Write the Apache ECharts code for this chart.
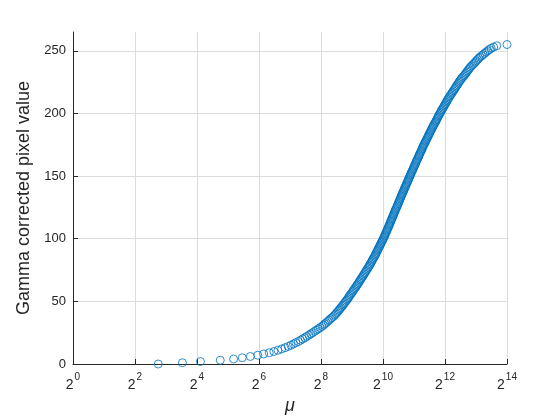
<!DOCTYPE html>
<html>
<head>
<meta charset="utf-8">
<script src="https://cdn.jsdelivr.net/npm/echarts@6/dist/echarts.min.js"></script>
<style>
html,body{margin:0;padding:0;background:#fff;}
#chart{width:560px;height:420px;}
</style>
</head>
<body>
<div id="chart"></div>
<script>
// log2(mu) for each gamma corrected pixel value
const log2Mu = [
 2.75,3.53,4.11,4.75,5.18,5.46,5.72,5.96,6.15,6.33,
 6.48,6.61,6.73,6.84,6.94,7.03,7.11,7.19,7.27,7.34,
 7.41,7.48,7.54,7.61,7.67,7.73,7.79,7.85,7.91,7.97,
 8.03,8.08,8.12,8.17,8.22,8.26,8.31,8.35,8.40,8.44,
 8.48,8.51,8.55,8.58,8.61,8.64,8.68,8.71,8.74,8.77,
 8.80,8.83,8.86,8.89,8.91,8.94,8.97,9.00,9.03,9.05,
 9.08,9.11,9.14,9.16,9.19,9.22,9.24,9.27,9.29,9.32,
 9.35,9.37,9.40,9.42,9.45,9.47,9.50,9.52,9.55,9.57,
 9.59,9.62,9.64,9.66,9.68,9.71,9.73,9.75,9.77,9.79,
 9.81,9.83,9.85,9.87,9.89,9.91,9.93,9.95,9.97,9.99,
 10.01,10.03,10.05,10.06,10.08,10.10,10.12,10.13,10.15,10.17,
 10.19,10.20,10.22,10.24,10.25,10.27,10.29,10.30,10.32,10.34,
 10.35,10.37,10.39,10.40,10.42,10.44,10.46,10.47,10.49,10.51,
 10.52,10.54,10.56,10.57,10.59,10.61,10.62,10.64,10.66,10.68,
 10.69,10.71,10.73,10.75,10.76,10.78,10.80,10.82,10.83,10.85,
 10.87,10.89,10.90,10.92,10.94,10.96,10.98,10.99,11.01,11.03,
 11.05,11.06,11.08,11.10,11.12,11.14,11.16,11.17,11.19,11.21,
 11.23,11.25,11.27,11.28,11.30,11.32,11.34,11.36,11.38,11.40,
 11.42,11.44,11.46,11.48,11.50,11.52,11.54,11.56,11.58,11.60,
 11.62,11.64,11.67,11.69,11.71,11.73,11.75,11.77,11.79,11.81,
 11.84,11.86,11.88,11.90,11.93,11.95,11.97,12.00,12.02,12.04,
 12.07,12.09,12.11,12.14,12.16,12.19,12.22,12.24,12.27,12.30,
 12.32,12.35,12.37,12.40,12.43,12.45,12.48,12.51,12.54,12.57,
 12.61,12.64,12.67,12.70,12.73,12.76,12.79,12.82,12.86,12.90,
 12.94,12.98,13.01,13.05,13.09,13.13,13.18,13.23,13.28,13.33,
 13.38,13.43,13.49,13.57,13.67,14.00
];
const pixelValue = [
 0,1,2,3,4,5,6,7,8,9,10,11,12,13,14,15,16,17,18,19,
 20,21,22,23,24,25,26,27,28,29,30,31,32,33,34,35,36,37,38,39,
 40,41,42,43,44,45,46,47,48,49,50,51,52,53,54,55,56,57,58,59,
 60,61,62,63,64,65,66,67,68,69,70,71,72,73,74,75,76,77,78,79,
 80,81,82,83,84,85,86,87,88,89,90,91,92,93,94,95,96,97,98,99,
 100,101,102,103,104,105,106,107,108,109,110,111,112,113,114,115,116,117,118,119,
 120,121,122,123,124,125,126,127,128,129,130,131,132,133,134,135,136,137,138,139,
 140,141,142,143,144,145,146,147,148,149,150,151,152,153,154,155,156,157,158,159,
 160,161,162,163,164,165,166,167,168,169,170,171,172,173,174,175,176,177,178,179,
 180,181,182,183,184,185,186,187,188,189,190,191,192,193,194,195,196,197,198,199,
 200,201,202,203,204,205,206,207,208,209,210,211,212,213,214,215,216,217,218,219,
 220,221,222,223,224,225,226,227,228,229,230,231,232,233,234,235,236,237,238,239,
 240,241,242,243,244,245,246,247,248,249,250,251,252,253,254,255
];
const xTickExponents = [0,2,4,6,8,10,12,14];
const yTicks = [0,50,100,150,200,250];

const points = log2Mu.map((e, i) => [e, pixelValue[i]]);
const font = '"Liberation Sans", Arial, Helvetica, sans-serif';
const axisColor = '#262626';
const gridColor = '#dcdcdc';

const chart = echarts.init(document.getElementById('chart'), null, {renderer: 'canvas'});
chart.setOption({
  animation: false,
  backgroundColor: '#ffffff',
  grid: {left: 73, right: 53, top: 32, bottom: 52, containLabel: false},
  xAxis: {
    type: 'value',
    min: xTickExponents[0],
    max: xTickExponents[xTickExponents.length - 1],
    interval: 2,
    name: 'μ',
    nameLocation: 'middle',
    nameGap: 33,
    nameTextStyle: {fontFamily: font, fontSize: 18, fontStyle: 'italic', color: axisColor},
    axisLine: {show: true, onZero: false, lineStyle: {color: axisColor, width: 1}},
    axisTick: {show: true, inside: true, length: 5, lineStyle: {color: axisColor}},
    splitLine: {show: true, lineStyle: {color: gridColor, width: 1}},
    axisLabel: {
      margin: 8,
      formatter: v => '{b|2}{s|' + v + '}',
      rich: {
        b: {fontFamily: font, fontSize: 14, color: axisColor, lineHeight: 20, verticalAlign: 'bottom'},
        s: {fontFamily: font, fontSize: 10, color: axisColor, lineHeight: 20, verticalAlign: 'top', padding: [0,0,0,1]}
      }
    }
  },
  yAxis: {
    type: 'value',
    min: 0,
    max: 265,
    interval: 50,
    name: 'Gamma corrected pixel value',
    nameLocation: 'middle',
    nameGap: 36,
    nameTextStyle: {fontFamily: font, fontSize: 18, color: axisColor},
    axisLine: {show: true, onZero: false, lineStyle: {color: axisColor, width: 1}},
    axisTick: {show: true, inside: true, length: 5, lineStyle: {color: axisColor}},
    splitLine: {show: true, lineStyle: {color: [gridColor, gridColor, gridColor, gridColor, gridColor, gridColor, 'rgba(0,0,0,0)'], width: 1}},
    axisLabel: {
      margin: 7, showMaxLabel: false,
      fontFamily: font, fontSize: 13, color: axisColor,
      formatter: v => (yTicks.indexOf(v) >= 0 ? String(v) : '')
    }
  },
  series: [{
    type: 'scatter',
    data: points,
    symbol: 'circle',
    symbolSize: 8,
    clip: false,
    itemStyle: {color: 'rgba(0,0,0,0)', borderColor: '#0072BD', borderWidth: 1},
    emphasis: {disabled: true}
  }]
});
</script>
</body>
</html>
